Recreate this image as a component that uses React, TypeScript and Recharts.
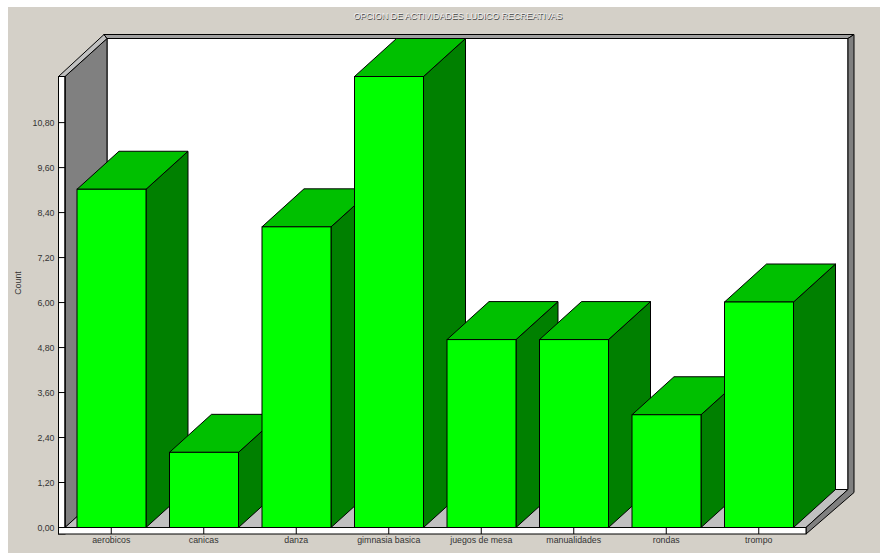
// App.tsx
import { BarChart, Bar, XAxis, YAxis, usePlotArea } from 'recharts';

const categories = ['aerobicos', 'canicas', 'danza', 'gimnasia basica', 'juegos de mesa', 'manualidades', 'rondas', 'trompo'];
const counts = [9, 2, 8, 12, 5, 5, 3, 6];
const yTicks = [0, 1.2, 2.4, 3.6, 4.8, 6, 7.2, 8.4, 9.6, 10.8];

const chartData = categories.map((name, i) => ({ name, count: counts[i] }));

const FONT = '"Liberation Sans", Arial, sans-serif';
const DX = 42; // depth of the 3d effect
const DY = 38;
const STRIP = 6.5;
const TITLE = 'OPCION DE ACTIVIDADES LUDICO RECREATIVAS';

const pts = (list: number[][]) => list.map(p => p.join(',')).join(' ');

// back wall, left wall, floor and the outer frame
const Room = () => {
  const plot = usePlotArea();
  if (!plot) return null;
  const l = plot.x;
  const r = plot.x + plot.width;
  const t = plot.y;
  const b = plot.y + plot.height;
  const line = { stroke: '#000', strokeWidth: 1 };
  return (
    <g>
      <polygon points={pts([[l + DX, t - DY], [r + DX + 1, t - DY], [r + DX + 1, b - DY], [l + DX, b - DY]])} fill="#fff" {...line} />
      <polygon points={pts([[l, t], [l + DX, t - DY], [l + DX, b - DY], [l, b]])} fill="#808080" {...line} />
      <polygon points={pts([[l, b], [l + DX, b - DY], [r + DX + 1, b - DY], [r + 1, b]])} fill="#c0c0c0" {...line} />
      <polygon points={pts([[l - STRIP, t], [l, t], [l + DX, t - DY], [l + DX - 3, t - DY - 4]])} fill="#c0c0c0" {...line} />
      <polygon points={pts([[l + DX - 3, t - DY - 4], [r + DX + 7, t - DY - 4], [r + DX + 1, t - DY], [l + DX, t - DY]])} fill="#a0a0a0" {...line} />
      <polygon points={pts([[r + DX + 1, t - DY], [r + DX + 7, t - DY - 4], [r + DX + 7, b - DY + 3], [r + 1, b + STRIP], [r + 1, b], [r + DX + 1, b - DY]])} fill="#808080" {...line} />
      <rect x={l - STRIP} y={t} width={STRIP} height={b - t + STRIP} fill="#fff" {...line} />
      <rect x={l - STRIP} y={b} width={r - l + STRIP + 1} height={STRIP} fill="#fff" {...line} />
    </g>
  );
};

// front, top and side faces of a box
const Box = (props: any) => {
  const { x, y, width, height } = props;
  const r = x + width;
  const b = y + height;
  return (
    <g stroke="#000" strokeWidth={1}>
      <polygon points={pts([[r, y], [r + DX, y - DY], [r + DX, b - DY], [r, b]])} fill="#008000" />
      <polygon points={pts([[x, y], [x + DX, y - DY], [r + DX, y - DY], [r, y]])} fill="#00c000" />
      <rect x={x} y={y} width={width} height={height} fill="#00ff00" />
    </g>
  );
};

const App = () => {
  return (
    <div style={{ position: 'absolute', left: 8, top: 7, width: 872, height: 546, background: '#d4d0c8' }}>
      <BarChart
        width={872}
        height={546}
        data={chartData}
        margin={{ top: 69.5, right: 75, bottom: 0.5, left: 0 }}
        barSize={69}
      >
        <Room />
        <text x={450.6} y={12.6} textAnchor="middle" fontFamily={FONT} fontSize={8.8} fill="#444">
          {TITLE}
        </text>
        <text x={450} y={12} textAnchor="middle" fontFamily={FONT} fontSize={8.8} fill="#eee">
          {TITLE}
        </text>
        <text x={13} y={276} transform="rotate(-90 13 276)" textAnchor="middle" fontFamily={FONT} fontSize={8.8} fill="#333">
          Count
        </text>
        <XAxis
          dataKey="name"
          height={25}
          interval={0}
          tickSize={6.5}
          tickMargin={3}
          axisLine={{ stroke: '#000' }}
          tickLine={{ stroke: '#000' }}
          tick={{ fontFamily: FONT, fontSize: 8.8, fill: '#333' }}
        />
        <YAxis
          width={57}
          domain={[0, 12.03]}
          allowDataOverflow
          ticks={yTicks}
          interval={0}
          tickSize={6.5}
          tickMargin={4}
          tickFormatter={(v: number) => v.toFixed(2).replace('.', ',')}
          axisLine={{ stroke: '#000' }}
          tickLine={{ stroke: '#000' }}
          tick={{ fontFamily: FONT, fontSize: 8.8, fill: '#333' }}
        />
        <YAxis yAxisId="boxes" hide domain={[0, 12]} />
        <Bar yAxisId="boxes" dataKey="count" shape={<Box />} isAnimationActive={false} />
      </BarChart>
    </div>
  );
};

export default App;
